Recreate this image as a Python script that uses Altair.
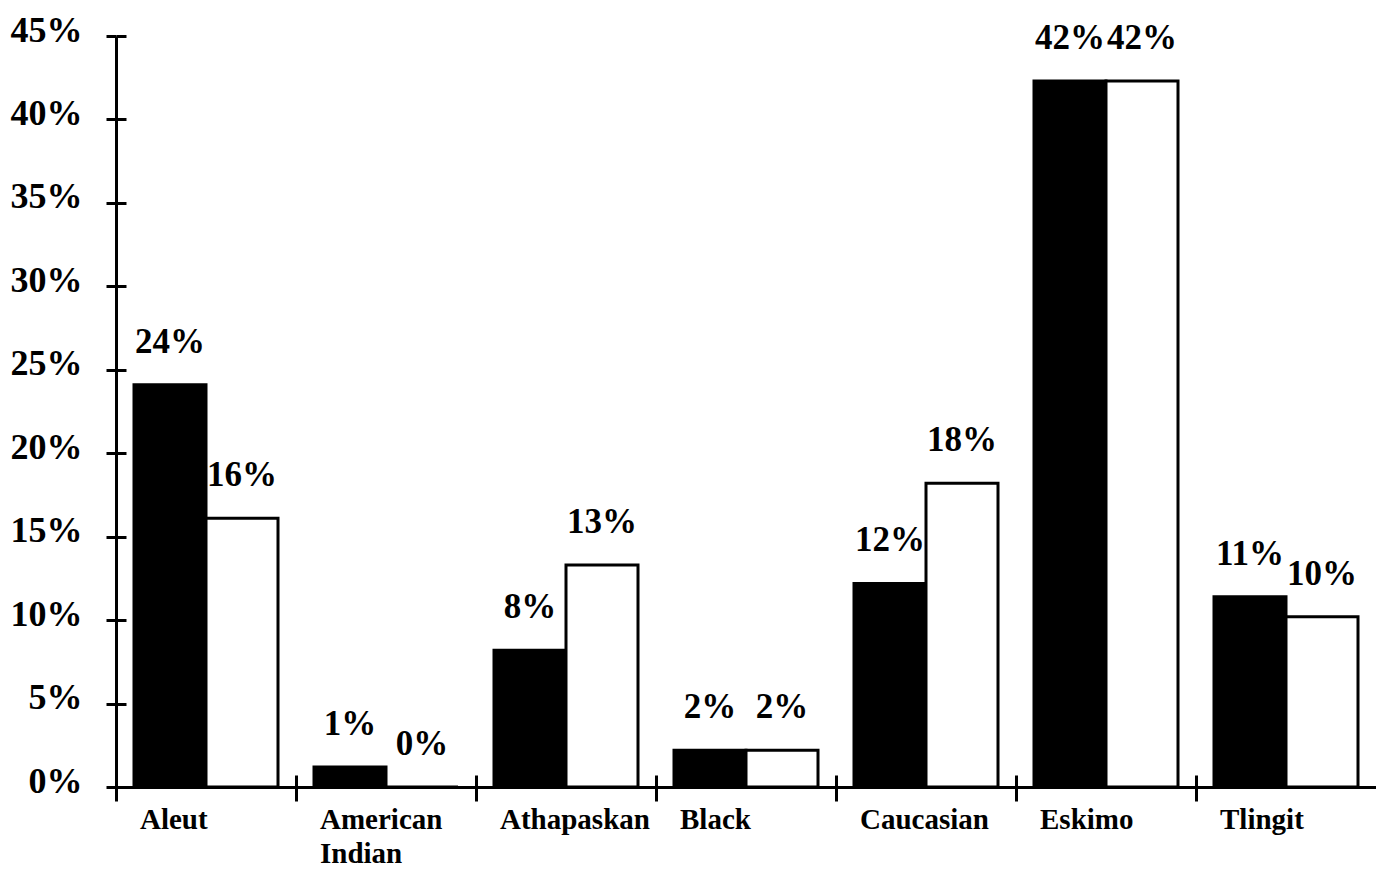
import altair as alt
import pandas as pd

categories = ["Aleut", "American Indian", "Athapaskan", "Black", "Caucasian", "Eskimo", "Tlingit"]
series_names = ["Series 1", "Series 2"]
black_values = [24.1, 1.2, 8.2, 2.2, 12.2, 42.3, 11.4]
white_values = [16.1, 0.0, 13.3, 2.2, 18.2, 42.3, 10.2]
y_ticks = [0, 5, 10, 15, 20, 25, 30, 35, 40, 45]

rows = []
for c, b, w in zip(categories, black_values, white_values):
    rows.append({"category": c, "series": series_names[0], "value": b})
    rows.append({"category": c, "series": series_names[1], "value": w})
df = pd.DataFrame(rows)

FONT = "Liberation Serif"
W = 1260
H = 751
half_step = W / len(categories) / 2

x_scale = alt.Scale(paddingInner=0, paddingOuter=0)
y_scale = alt.Scale(domain=[0, 45], nice=False, zero=True)
xoff = alt.XOffset("series:N", sort=series_names,
                   scale=alt.Scale(paddingInner=0, paddingOuter=0.25))

x_main = alt.X(
    "category:N", sort=categories, title=None, scale=x_scale,
    axis=alt.Axis(bandPosition=0, labelAlign="left", labelOffset=24 - half_step, labelAngle=0,
                  labelFont=FONT, labelFontWeight="bold", labelFontSize=29,
                  labelColor="black", labelPadding=4, labelLineHeight=34,
                  labelBaseline="top", labelExpr="split(datum.label, ' ')",
                  labelOverlap=False, tickSize=14, tickWidth=3, tickColor="black",
                  domainColor="black", domainWidth=3, zindex=1, grid=False),
)
y_main = alt.Y(
    "value:Q", title=None, scale=y_scale,
    axis=alt.Axis(values=y_ticks, labelExpr="datum.value + '%'",
                  labelFont=FONT, labelFontWeight="bold", labelFontSize=36,
                  labelColor="black", labelPadding=24, labelOffset=-6,
                  tickSize=10, tickWidth=3, tickColor="black",
                  domainColor="black", domainWidth=3, grid=False, zindex=1),
)

x_inner = alt.X(
    "category:N", sort=categories, title=None, scale=x_scale,
    axis=alt.Axis(orient="bottom", offset=-12, bandPosition=0, tickSize=12,
                  tickWidth=3, tickColor="black", domain=False, labels=False,
                  grid=False, zindex=1),
)
y_inner = alt.Y(
    "value:Q", title=None, scale=y_scale,
    axis=alt.Axis(orient="left", offset=-10, values=y_ticks, tickSize=10,
                  tickWidth=3, tickColor="black", domain=False, labels=False,
                  grid=False, zindex=1),
)

bars = alt.Chart(df).mark_bar(stroke="black", strokeWidth=3).encode(
    x=x_main,
    xOffset=xoff,
    y=y_main,
    fill=alt.Fill("series:N", scale=alt.Scale(domain=series_names, range=["black", "white"]),
                  legend=None),
)

text = alt.Chart(df).transform_calculate(
    label="format(datum.value, '.0f') + '%'"
).mark_text(
    font=FONT, fontWeight="bold", fontSize=35, baseline="alphabetic", dy=-32, color="black"
).encode(
    x=x_inner,
    xOffset=xoff,
    y=y_inner,
    text="label:N",
)

chart = alt.layer(bars, text).resolve_axis(x="independent", y="independent").properties(
    width=W, height=H,
    padding={"left": 2, "top": 4, "right": 0, "bottom": 0},
    background="white",
).configure_view(stroke=None)

chart.save("out.html", embed_options={"renderer": "svg", "actions": False})
